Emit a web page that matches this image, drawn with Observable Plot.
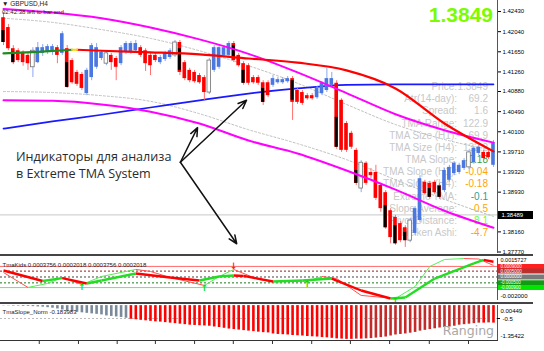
<!DOCTYPE html>
<html><head><meta charset="utf-8">
<script src="https://cdn.jsdelivr.net/npm/d3@7"></script>
<script src="https://cdn.jsdelivr.net/npm/@observablehq/plot@0.6"></script>
<style>
html,body{margin:0;padding:0;background:#fff;}
#wrap{position:relative;width:544px;height:351px;overflow:hidden;background:#fff;font-family:"Liberation Sans",Arial,sans-serif;}
.abs{position:absolute;white-space:nowrap;}
</style></head><body><div id="wrap"></div>
<script>
// ---------- DATA ----------
const barOpen = [1.4231,1.4212,1.4171,1.4167,1.4164,1.4158,1.4135,1.4144,1.4162,1.4164,
1.4166,1.4173,1.4162,1.4171,1.4148,1.4125,1.4121,1.4084,1.4115,1.4135,
1.4152,1.4142,1.4158,1.4152,1.4142,1.4164,1.4164,1.4167,1.4173,1.4167,
1.4158,1.4158,1.4144,1.4150,1.4154,1.4158,1.4183,1.4144,1.4129,1.4125,
1.4119,1.4115,1.4086,1.4129,1.4135,1.4158,1.4158,1.4181,1.4158,1.4142,
1.4138,1.4115,1.4115,1.4105,1.4105,1.4100,1.4105,1.4105,1.4107,1.4113,
1.4090,1.4086,1.4080,1.4080,1.4076,1.4084,1.4090,1.4100,1.4104,1.4071,
1.4026,1.4007,1.3974,1.3900,1.3949,1.3931,1.3931,1.3906,1.3892,1.3857,
1.3844,1.3832,1.3824,1.3799,1.3813,1.3838,1.3912,1.3910,1.3912,1.3906,
1.3896,1.3916,1.3929,1.3931,1.3939,1.3941,1.3950,1.3968,1.3970,1.3970,
1.3945];
const barHigh = [1.4241,1.4218,1.4177,1.4171,1.4167,1.4164,1.4173,1.4183,1.4179,1.4179,
1.4179,1.4177,1.4204,1.4177,1.4152,1.4129,1.4125,1.4133,1.4181,1.4181,
1.4167,1.4166,1.4162,1.4156,1.4177,1.4185,1.4185,1.4187,1.4177,1.4171,
1.4162,1.4162,1.4158,1.4166,1.4171,1.4187,1.4187,1.4148,1.4133,1.4129,
1.4123,1.4119,1.4152,1.4177,1.4177,1.4177,1.4185,1.4185,1.4162,1.4146,
1.4142,1.4119,1.4119,1.4109,1.4109,1.4119,1.4115,1.4115,1.4117,1.4117,
1.4094,1.4090,1.4084,1.4084,1.4098,1.4107,1.4133,1.4125,1.4109,1.4074,
1.4030,1.4011,1.3978,1.3954,1.3952,1.3939,1.3945,1.3910,1.3896,1.3861,
1.3848,1.3836,1.3828,1.3842,1.3865,1.3925,1.3916,1.3914,1.3916,1.3910,
1.3939,1.3945,1.3952,1.3949,1.3958,1.3974,1.3981,1.3983,1.3974,1.3974,
1.3993];
const barLow = [1.4177,1.4167,1.4140,1.4144,1.4137,1.4129,1.4115,1.4142,1.4156,1.4160,
1.4158,1.4142,1.4158,1.4094,1.4102,1.4098,1.4090,1.4080,1.4109,1.4131,
1.4148,1.4138,1.4129,1.4109,1.4138,1.4160,1.4160,1.4164,1.4154,1.4127,
1.4119,1.4144,1.4140,1.4146,1.4150,1.4154,1.4119,1.4109,1.4105,1.4104,
1.4102,1.4071,1.4082,1.4125,1.4131,1.4154,1.4154,1.4144,1.4135,1.4100,
1.4100,1.4102,1.4100,1.4061,1.4076,1.4096,1.4102,1.4102,1.4104,1.4032,
1.4063,1.4061,1.4071,1.4071,1.4073,1.4080,1.4086,1.4096,1.3976,1.3970,
1.3970,1.3976,1.3906,1.3892,1.3906,1.3919,1.3877,1.3854,1.3821,1.3793,
1.3790,1.3795,1.3786,1.3795,1.3809,1.3834,1.3887,1.3879,1.3888,1.3879,
1.3892,1.3912,1.3925,1.3927,1.3935,1.3937,1.3947,1.3964,1.3954,1.3956,
1.3941];
const barClose = [1.4183,1.4171,1.4144,1.4148,1.4144,1.4142,1.4167,1.4173,1.4173,1.4175,
1.4175,1.4158,1.4200,1.4096,1.4105,1.4102,1.4094,1.4129,1.4177,1.4173,
1.4164,1.4162,1.4144,1.4135,1.4173,1.4181,1.4181,1.4181,1.4158,1.4142,
1.4138,1.4148,1.4154,1.4162,1.4167,1.4183,1.4125,1.4113,1.4109,1.4107,
1.4105,1.4086,1.4148,1.4173,1.4173,1.4173,1.4181,1.4148,1.4138,1.4104,
1.4104,1.4105,1.4104,1.4067,1.4080,1.4113,1.4111,1.4111,1.4113,1.4067,
1.4067,1.4065,1.4074,1.4074,1.4094,1.4104,1.4113,1.4113,1.3980,1.3974,
1.3974,1.3980,1.3910,1.3950,1.3910,1.3925,1.3881,1.3861,1.3824,1.3805,
1.3793,1.3799,1.3799,1.3838,1.3861,1.3919,1.3890,1.3883,1.3892,1.3883,
1.3935,1.3941,1.3949,1.3945,1.3954,1.3970,1.3978,1.3980,1.3958,1.3960,
1.3989];
const hollowBars = [6,21,35,42,73,83,95];

// Heiken-Ashi black bodies drawn on top of some candles
const haIdx = [0,2,13,36,47,49,53,59,68,72,78,80,82,87,89];
const haTop = [1.4206,1.4164,1.4144,1.4171,1.4177,1.4129,1.4094,1.4109,1.4038,1.3935,1.3867,1.3828,1.3815,1.3900,1.3904];
const haBottom = [1.4183,1.4144,1.4096,1.4129,1.4152,1.4104,1.4067,1.4071,1.3980,1.3910,1.3824,1.3793,1.3799,1.3883,1.3883];

// TMA bands (sampled every 10 bars)
const bandIdx = [0,10,20,30,40,50,60,70,80,90,100];
const bandUpper = [1.4248,1.4241,1.4230,1.4212,1.4189,1.4161,1.4125,1.4085,1.4044,1.4013,1.3989];
const bandUpperInner = [1.4230,1.4222,1.4208,1.4191,1.4167,1.4138,1.4104,1.4063,1.4024,1.3995,1.3974];
const bandLower = [1.4071,1.4070,1.4063,1.4049,1.4026,1.3993,1.3968,1.3935,1.3898,1.3857,1.3824];
const bandLowerInner = [1.4088,1.4086,1.4080,1.4069,1.4045,1.4014,1.3987,1.3956,1.3917,1.3879,1.3846];
const blueMA = [1.4016,1.4030,1.4043,1.4057,1.4071,1.4084,1.4094,1.4101,1.4102,1.4102,1.4102];
const midIdx = [0,7,14,15,20,30,40,50,60,70,80,90,100];
const midTMA = [1.4162,1.4165,1.4169,1.4169,1.4167,1.4164,1.4160,1.4152,1.4144,1.4129,1.4094,1.4026,1.3972];

const currentPrice = 1.38489;
const priceTicks = [1.42430,1.42040,1.41650,1.41260,1.40880,1.40490,1.40100,1.39710,1.39320,1.38930,1.38160,1.37770];

// annotation arrows (bar index, price)
const arrowFromIdx = [36.1,36.1,36.1];
const arrowFromPrice = [1.3951,1.3951,1.3951];
const arrowToIdx = [39.6,49.6,47.6];
const arrowToPrice = [1.4018,1.4071,1.3793];

// info panel
const infoLabels = ["Price:","Atr(14-day):","Spread:","TMA Range:","TMA Size (H1):","TMA Size (H4):","TMA Slope:","TMA Slope (H1):","TMA Slope (H4):","Extreme TMA:","Slope Average:","Pivot Distance:","Heiken Ashi:"];
const infoValues = ["1.3849","69.2","1.6","122.9","69.9","132.2","-0.18","-0.04","-0.18","-0.1","-0.5","8.1","-4.7"];
const infoColors = ["#c8c8c8","#c8c8c8","#c8c8c8","#c8c8c8","#c8c8c8","#c8c8c8","#3f9a3f","#ffa500","#ffa500","#2aa198","#ffa500","#66ff33","#ffa500"];

// TMA kids sub-window
const kidsSlowIdx = [0,8,12,17,20,27,34,40,44,47,49,55,61,67,69,73,79,82,88,96,98,100];
const kidsSlow = [0.00055,-0.00034,-0.0001,-0.00055,-0.0003,0.0003,-0.00004,-0.0003,0.00004,0.00013,0.00009,-0.00038,-0.0003,-0.00013,-0.00047,-0.00115,-0.00183,-0.00174,-0.00013,0.00115,0.00145,0.0013];
const kidsFastIdx = [0,5,9,12,16,20,27,30,34,41,44,47,52,55,62,65,68,73,80,84,87,90,94,97,100];
const kidsFast = [0.00038,-0.00089,-0.00055,-0.00004,-0.00064,0.00004,0.00064,0.00047,-0.00004,-0.00072,0.00004,0.00064,-0.00021,-0.00038,-0.00036,0.00004,-0.00013,-0.00157,-0.00183,-0.00081,0.00089,0.00149,0.00157,0.00153,0.00098];
const kidsUpIdx = [16,41,62,80];
const kidsUpVal = [-0.00064,-0.00072,-0.00038,-0.00183];
const kidsDownIdx = [47];
const kidsDownVal = [0.00064];
const kidsLevels = [0.0009,0.0005,0,-0.0005,-0.0009];
const kidsLevelLabels = ["0.0009000","0.0005000","0.0000000","-0.000500","-0.000900"];
const kidsMax = 0.0015727, kidsMin = -0.002;

// TMA slope histogram
const slopeNorm = [-0.01,-0.01,-0.02,-0.02,-0.03,-0.03,-0.04,-0.05,-0.06,-0.08,
-0.10,-0.13,-0.17,-0.22,-0.24,-0.26,-0.28,-0.30,-0.32,-0.34,
-0.36,-0.40,-0.42,-0.44,-0.46,-0.49,-0.53,-0.55,-0.57,-0.59,
-0.61,-0.63,-0.64,-0.66,-0.68,-0.70,-0.72,-0.74,-0.76,-0.77,
-0.78,-0.79,-0.80,-0.83,-0.85,-0.88,-0.91,-0.93,-0.95,-0.97,
-0.99,-1.01,-1.03,-1.05,-1.06,-1.10,-1.12,-1.13,-1.14,-1.16,
-1.17,-1.18,-1.20,-1.21,-1.22,-1.24,-1.25,-1.27,-1.29,-1.30,
-1.31,-1.31,-1.30,-1.30,-1.29,-1.28,-1.26,-1.24,-1.22,-1.18,
-1.14,-1.12,-1.10,-1.07,-1.04,-0.99,-0.96,-0.93,-0.90,-0.87,
-0.85,-0.83,-0.80,-0.76,-0.74,-0.72,-0.70,-0.68,-0.68,-0.67,
-0.68];
const slopeMax = 0.00449, slopeMin = -1.35422, slopeLevel = -0.5;
const timeTickIdx = [7.3,15.3,23.2,31,39,46.9,54.9,62.9,70.8,78.8,86.9,94.9];

// ---------- BUILD ----------
const wrap = document.getElementById("wrap");
const FONT = "'Liberation Sans', Arial, sans-serif";
const xDom = [-0.612, 100.82];
const n = barOpen.length;
const candles = d3.range(n).map(i => ({i, o: barOpen[i], h: barHigh[i], l: barLow[i], c: barClose[i], hollow: hollowBars.includes(i)}));
const ha = haIdx.map((i, k) => ({i, t: haTop[k], b: haBottom[k]}));
const bands = bandIdx.map((i, k) => ({i, up: bandUpper[k], upIn: bandUpperInner[k], lo: bandLower[k], loIn: bandLowerInner[k], ma: blueMA[k]}));
const mid = midIdx.map((i, k) => ({i, v: midTMA[k]}));
const arrows = arrowFromIdx.map((x, k) => ({x1: x, y1: arrowFromPrice[k], x2: arrowToIdx[k], y2: arrowToPrice[k]}));

function addInfo() {
  infoLabels.forEach((lab, k) => {
    const top = 81 + k * 12.17;
    const a = document.createElement("div");
    a.className = "abs"; a.textContent = lab;
    a.style.cssText = `right:87px;top:${top}px;font-size:10px;line-height:12px;color:#c8c8c8;font-family:${FONT}`;
    wrap.appendChild(a);
    const b = document.createElement("div");
    b.className = "abs"; b.textContent = infoValues[k];
    b.style.cssText = `right:56px;top:${top}px;font-size:10px;line-height:12px;color:${infoColors[k]};font-family:${FONT}`;
    wrap.appendChild(b);
  });
}
addInfo();

const mainPlot = Plot.plot({
  width: 544, height: 254, marginTop: 0, marginBottom: 1, marginLeft: 0, marginRight: 47,
  x: {domain: xDom, axis: null},
  y: {domain: [1.37741, 1.42644], axis: "right", ticks: priceTicks, tickFormat: d => d.toFixed(5), tickSize: 3, tickPadding: 2, label: null},
  style: {background: "transparent", fontSize: "6px", fontFamily: FONT, color: "#000", overflow: "visible"},
  marks: [
    Plot.ruleY([currentPrice], {stroke: "#c8c8c8", strokeWidth: 1}),
    Plot.line(bands, {x: "i", y: "upIn", stroke: "#c0c0c0", strokeWidth: 1, strokeDasharray: "2,2", curve: "monotone-x"}),
    Plot.line(bands, {x: "i", y: "loIn", stroke: "#c0c0c0", strokeWidth: 1, strokeDasharray: "2,2", curve: "monotone-x"}),
    Plot.line(bands, {x: "i", y: "ma", stroke: "#1a1aff", strokeWidth: 1.7, curve: "monotone-x"}),
    Plot.ruleX(candles, {x: "i", y1: "l", y2: "h", stroke: d => d.c >= d.o ? "#8aa8ee" : "#ff7070", strokeWidth: 1}),
    Plot.rect(candles, {x1: d => d.i - 0.37, x2: d => d.i + 0.37, y1: "o", y2: "c",
      fill: d => d.hollow ? "#fff" : (d.c >= d.o ? "#4a78e0" : "#ff0000"),
      stroke: d => d.hollow ? "#707070" : "none", strokeWidth: 0.8}),
    Plot.rect(ha, {x1: d => d.i - 0.3, x2: d => d.i + 0.3, y1: "t", y2: "b", fill: "#000"}),
    Plot.line(bands, {x: "i", y: "up", stroke: "#ff00ff", strokeWidth: 2, curve: "monotone-x"}),
    Plot.line(bands, {x: "i", y: "lo", stroke: "#ff00ff", strokeWidth: 2, curve: "monotone-x"}),
    Plot.line(mid.filter(d => d.i >= 15), {x: "i", y: "v", stroke: "#ff0000", strokeWidth: 2.2, curve: "monotone-x"}),
    Plot.line(mid.filter(d => d.i <= 14), {x: "i", y: "v", stroke: "#1e8c1e", strokeWidth: 2.2, curve: "monotone-x"}),
    Plot.line(mid.filter(d => d.i >= 14 && d.i <= 15), {x: "i", y: "v", stroke: "#ffd700", strokeWidth: 2.2}),
    Plot.arrow(arrows, {x1: "x1", y1: "y1", x2: "x2", y2: "y2", stroke: "#111", strokeWidth: 1.5, headLength: 9, headAngle: 45}),
    Plot.ruleX([xDom[1]], {stroke: "#555", strokeWidth: 1}),
    Plot.ruleY([currentPrice], {insetLeft: 498, insetRight: -36, stroke: "#000", strokeWidth: 8}),
    Plot.text([currentPrice], {y: d => d, text: d => d.toFixed(5), frameAnchor: "right", textAnchor: "start", dx: 4, fill: "#fff", fontSize: 6})
  ]
});
mainPlot.style.position = "absolute"; mainPlot.style.left = "0px"; mainPlot.style.top = "0px";
wrap.appendChild(mainPlot);

function sep(top) {
  const s = document.createElement("div");
  s.className = "abs";
  s.style.cssText = `left:0;top:${top}px;width:533px;height:2px;background:#444`;
  wrap.appendChild(s);
}

// TMA kids panel
function segs(idx, vals) {
  return idx.slice(1).map((i, k) => ({x1: idx[k], y1: vals[k], x2: i, y2: vals[k + 1], up: vals[k + 1] >= vals[k]}));
}
const slowSegs = segs(kidsSlowIdx, kidsSlow);
const fastSegs = segs(kidsFastIdx, kidsFast);
const levelStyle = [
  {stroke: "#ff6a6a", dash: null, box: "#ff2020"},
  {stroke: "#a01818", dash: "2,2", box: "#b83030"},
  {stroke: "#444", dash: "2,2", box: "#7a7a7a"},
  {stroke: "#1a7a1a", dash: "2,2", box: "#139a13"},
  {stroke: "#66ee66", dash: null, box: "#00e600"}
];
const levels = kidsLevels.map((v, k) => ({v, label: kidsLevelLabels[k], ...levelStyle[k]}));
const kidsPlot = Plot.plot({
  width: 544, height: 46, marginTop: 2, marginBottom: 2, marginLeft: 0, marginRight: 47,
  x: {domain: xDom, axis: null},
  y: {domain: [kidsMin, kidsMax], axis: null},
  style: {background: "transparent", fontSize: "6px", fontFamily: FONT, overflow: "visible"},
  marks: [
    ...levels.map(l => Plot.ruleY([l.v], {stroke: l.stroke, strokeWidth: 1, strokeDasharray: l.dash})),
    Plot.link(fastSegs, {x1: "x1", y1: "y1", x2: "x2", y2: "y2", stroke: d => d.up ? "#55ee55" : "#ff5050", strokeWidth: 1}),
    Plot.link(slowSegs, {x1: "x1", y1: "y1", x2: "x2", y2: "y2", stroke: d => d.up ? "#22dd22" : "#ff0000", strokeWidth: 2.4}),
    Plot.text(kidsUpIdx.map((i, k) => ({i, v: kidsUpVal[k]})), {x: "i", y: "v", text: () => "↑", fill: "#00dd00", fontSize: 9, fontWeight: "bold", dy: 3, fontFamily: "DejaVu Sans"}),
    Plot.text(kidsDownIdx.map((i, k) => ({i, v: kidsDownVal[k]})), {x: "i", y: "v", text: () => "↓", fill: "#ff2020", fontSize: 9, fontWeight: "bold", dy: -3, fontFamily: "DejaVu Sans"}),
    Plot.ruleX([xDom[1]], {stroke: "#555", strokeWidth: 1}),
    ...levels.map(l => Plot.ruleY([l.v], {insetLeft: 498, insetRight: -47, stroke: l.box, strokeWidth: 5})),
    Plot.text(levels, {y: "v", text: "label", frameAnchor: "right", textAnchor: "start", dx: 3, fill: "#fff", fontSize: 4.5}),
    Plot.text(["0.0015727"], {frameAnchor: "top-right", textAnchor: "start", dx: 3, dy: 0, fill: "#000", fontSize: 5.5}),
    Plot.text(["-0.002000"], {frameAnchor: "bottom-right", textAnchor: "start", dx: 3, dy: -3, fill: "#000", fontSize: 6}),
    Plot.text(["TmaKids 0.0003756 0.0002018 0.0003756 0.0002018"], {frameAnchor: "top-left", textAnchor: "start", dx: 2, dy: 4, fill: "#222", fontSize: 6})
  ]
});
kidsPlot.style.position = "absolute"; kidsPlot.style.left = "0px"; kidsPlot.style.top = "256px";
wrap.appendChild(kidsPlot);

// slope histogram panel
const hist = slopeNorm.map((v, i) => ({i, v, prev: i > 0 ? slopeNorm[i - 1] : v}));
const histColor = d => d.v > slopeLevel ? "#7b8a9a" : (d.v <= d.prev ? "#ff0000" : "#c42a2a");
const slopePlot = Plot.plot({
  width: 544, height: 47, marginTop: 1, marginBottom: 11, marginLeft: 0, marginRight: 47,
  x: {domain: xDom, axis: "bottom", ticks: timeTickIdx, tickFormat: () => "", tickSize: 4, line: true, label: null},
  y: {domain: [slopeMin, slopeMax], axis: null},
  style: {background: "transparent", fontSize: "6px", fontFamily: FONT, overflow: "visible", color: "#333"},
  marks: [
    Plot.ruleY([slopeLevel], {stroke: "#bbb", strokeDasharray: "2,2"}),
    Plot.ruleX(hist, {x: "i", y1: 0, y2: "v", stroke: histColor, strokeWidth: 2.6}),
    Plot.ruleX([xDom[1]], {stroke: "#555", strokeWidth: 1}),
    Plot.ruleY([slopeLevel], {insetLeft: 497, insetRight: -3, stroke: "#000"}),
    Plot.text([slopeLevel], {y: d => d, text: () => "-0.5", frameAnchor: "right", textAnchor: "start", dx: 5, dy: 1, fill: "#000", fontSize: 6}),
    Plot.text(["0.00449"], {frameAnchor: "top-right", textAnchor: "start", dx: 3, dy: 3, fill: "#000", fontSize: 6}),
    Plot.text(["-1.35422"], {frameAnchor: "bottom-right", textAnchor: "start", dx: 3, dy: -3, fill: "#000", fontSize: 6}),
    Plot.text(["TmaSlope_Norm -0.183983"], {frameAnchor: "top-left", textAnchor: "start", dx: 2, dy: 4, fill: "#222", fontSize: 6})
  ]
});
slopePlot.style.position = "absolute"; slopePlot.style.left = "0px"; slopePlot.style.top = "304px";
wrap.appendChild(slopePlot);

sep(254); sep(302);

function txt(t, css) {
  const d = document.createElement("div");
  d.className = "abs"; d.textContent = t; d.style.cssText = css;
  wrap.appendChild(d);
}
txt("▼ GBPUSD,H4", `left:2px;top:0px;font-size:6.5px;line-height:8px;color:#222;font-family:${FONT}`);
txt("02:42:38 left to bar end", `left:2px;top:8px;font-size:6px;line-height:8px;color:#222;font-family:${FONT}`);
txt("1.3849", `right:51px;top:4px;font-size:21px;line-height:21px;font-weight:bold;color:#7cfc00;font-family:${FONT}`);
txt("Индикаторы для анализа", `left:16px;top:149px;font-size:12.6px;line-height:16px;color:#2b2b2b;font-family:'Open Sans',sans-serif`);
txt("в Extreme TMA System", `left:16px;top:166px;font-size:12.6px;line-height:16px;color:#2b2b2b;font-family:'Open Sans',sans-serif`);
txt("Ranging", `right:50px;top:324px;font-size:12.5px;line-height:14px;color:#a8a8a8;font-family:'DejaVu Sans',sans-serif`);
</script></body></html>
